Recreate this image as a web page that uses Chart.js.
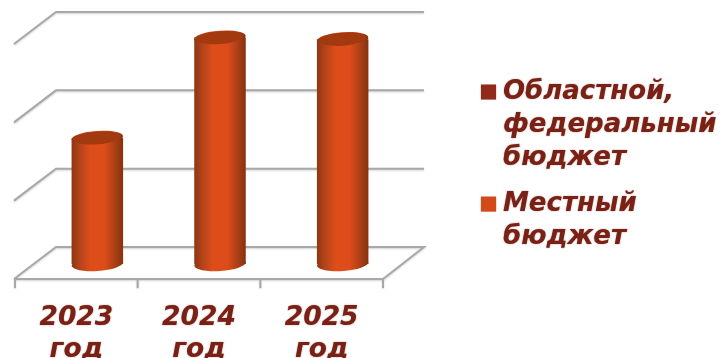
<!DOCTYPE html>
<html><head><meta charset="utf-8">
<style>html,body{margin:0;padding:0;background:#fff;overflow:hidden}#w{position:relative;width:721px;height:358px}</style>
<script src="https://cdn.jsdelivr.net/npm/chart.js@4/dist/chart.umd.min.js"></script>
</head><body><div id="w"><canvas id="c" width="721" height="358"></canvas></div>
<script>
const categories = [['2023','год'],['2024','год'],['2025','год']];
const regionalLabel = ['Областной,','федеральный','бюджет'];
const localLabel = ['Местный','бюджет'];
const regionalValues = [0,0,0];
const localValues = [1.61,2.89,2.87];
const axisMax = 3;
const legendColors = ['#922a1b','#d24a17'];
const textColor = '#7a2116';
const gridColor = '#a8a8a8';

const backDx=20, backDy=-17, frontDx=-21, frontDy=15;
const cylinderW=51.5, ry=7, tilt=-4*Math.PI/180;

function sideGradient(ctx,cx){
  const g=ctx.createLinearGradient(cx-cylinderW/2,0,cx+cylinderW/2,0);
  g.addColorStop(0,'#8c3712');g.addColorStop(.16,'#b5431a');g.addColorStop(.36,'#dd4d1a');
  g.addColorStop(.64,'#dd4c1a');g.addColorStop(.85,'#aa3f15');g.addColorStop(1,'#853210');
  return g;
}
const scene={
  id:'scene',
  afterLayout(chart){
    const l=chart.legend;
    l.left=474;l.right=721;l.top=66;l.bottom=320;
  },
  beforeDraw(chart){
    const c=chart.ctx;
    c.shadowColor='rgba(122,33,22,.6)';c.shadowBlur=1.5;c.shadowOffsetX=0;c.shadowOffsetY=0;
  },
  beforeDatasetsDraw(chart){
    const {ctx,scales:{x,y},chartArea:a}=chart;
    ctx.shadowColor='rgba(0,0,0,0)';ctx.shadowBlur=0;
    ctx.save();
    ctx.strokeStyle=gridColor;ctx.lineWidth=2;ctx.lineCap='butt';
    ctx.shadowColor='rgba(0,0,0,.18)';ctx.shadowBlur=2;ctx.shadowOffsetY=1;
    y.ticks.forEach(t=>{
      const py=y.getPixelForValue(t.value);
      ctx.beginPath();
      ctx.moveTo(a.left+frontDx-1,py+frontDy);
      ctx.lineTo(a.left+backDx,py+backDy);
      ctx.lineTo(a.right+backDx,py+backDy);
      if(t.value===0){
        ctx.lineTo(a.right+frontDx,py+frontDy);
        ctx.lineTo(a.left+frontDx-1,py+frontDy);
      }
      ctx.stroke();
    });
    const base=y.getPixelForValue(0)+frontDy;
    const step=(a.right-a.left)/categories.length;
    for(let i=0;i<=categories.length;i++){
      const px=a.left+frontDx+i*step;
      ctx.beginPath();ctx.moveTo(px,base);ctx.lineTo(px,base+9);ctx.stroke();
    }
    ctx.restore();
    chart.getDatasetMeta(1).data.forEach(b=>{
      ctx.save();
      ctx.fillStyle=sideGradient(ctx,b.x);
      ctx.beginPath();ctx.ellipse(b.x,b.base,cylinderW/2,ry,tilt,0,Math.PI*2);ctx.fill();
      ctx.restore();
    });
  },
  afterDatasetsDraw(chart){
    const {ctx}=chart;
    chart.getDatasetMeta(1).data.forEach(b=>{
      ctx.save();
      ctx.fillStyle=sideGradient(ctx,b.x);
      ctx.beginPath();ctx.ellipse(b.x,b.y,cylinderW/2,ry,tilt,0,Math.PI*2);ctx.fill();
      ctx.fillStyle='#a3390f';
      ctx.beginPath();ctx.ellipse(b.x-.5,b.y,cylinderW/2-2,ry-.5,tilt,0,Math.PI*2);ctx.fill();
      ctx.restore();
    });
  }
};
new Chart(document.getElementById('c'),{
  type:'bar',
  plugins:[scene],
  data:{labels:categories,datasets:[
    {label:regionalLabel,data:regionalValues,backgroundColor:legendColors[0],barPercentage:.42,categoryPercentage:1,borderWidth:0},
    {label:localLabel,data:localValues,barPercentage:.42,categoryPercentage:1,borderWidth:0,
     backgroundColor(c){const ch=c.chart;if(!ch.chartArea||c.dataIndex===undefined)return legendColors[1];
       return sideGradient(ch.ctx,ch.scales.x.getPixelForValue(c.dataIndex));}}
  ]},
  options:{
    responsive:false,animation:false,
    events:[],
    layout:{padding:{left:36,top:29,right:317,bottom:0}},
    scales:{
      x:{stacked:true,grid:{display:false},border:{display:false},
         afterFit(s){s.height=94;},
         ticks:{labelOffset:-21,padding:30,maxRotation:0,autoSkip:false,color:textColor,
                font:{family:'"DejaVu Sans"',size:26.5,weight:'bold',style:'italic',lineHeight:1.2}}},
      y:{stacked:true,min:0,max:axisMax,grid:{display:false},border:{display:false},
         afterFit(s){s.width=0;},
         ticks:{display:false,stepSize:1}}
    },
    plugins:{
      tooltip:{enabled:false},
      legend:{position:'chartArea',align:'start',
        labels:{boxWidth:3,boxHeight:3,padding:13,color:textColor,
          font:{family:'"DejaVu Sans"',size:26,weight:'bold',style:'italic',lineHeight:1.27},
          generateLabels(ch){return ch.data.datasets.map((d,i)=>({text:d.label,fillStyle:legendColors[i],strokeStyle:legendColors[i],fontColor:textColor,lineWidth:12,hidden:false,datasetIndex:i}));}
        }}
    }
  }
});
</script></body></html>
